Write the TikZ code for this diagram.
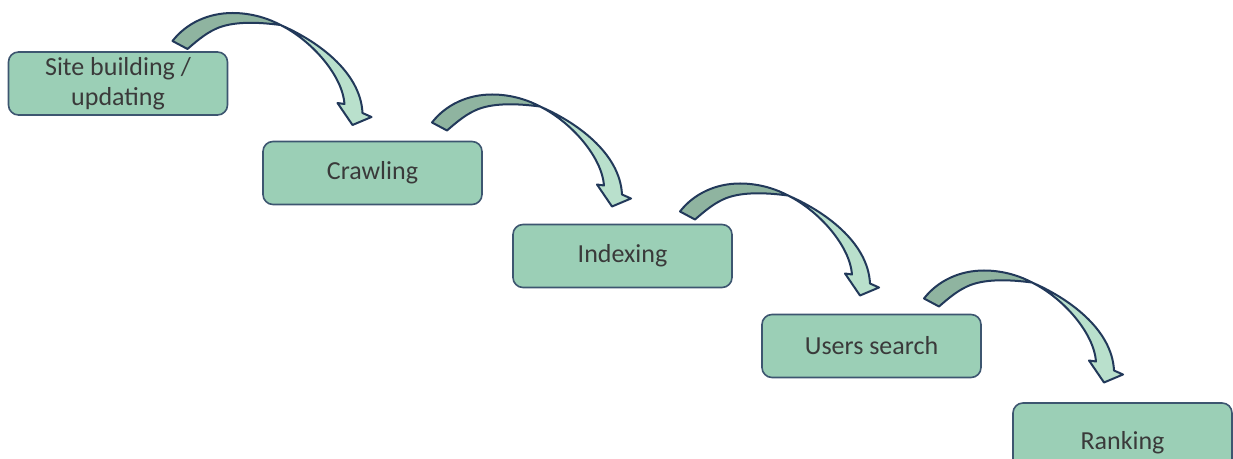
\documentclass[tikz,border=0pt]{standalone}
\usepackage{fontspec}
\setmainfont{Carlito}
\usetikzlibrary{calc}
\definecolor{boxfill}{HTML}{9BCFB6}
\definecolor{boxline}{HTML}{3D5670}
\definecolor{arrowdark}{HTML}{8FB4A0}
\definecolor{arrowlight}{HTML}{B9E0CC}
\definecolor{arrowline}{HTML}{22395A}
\definecolor{txt}{HTML}{3A3A3A}
\tikzset{
  stepbox/.style={draw=boxline, fill=boxfill, line width=0.8pt, rounded corners=5pt,
    minimum width=109.5pt, minimum height=31.5pt, inner sep=0pt, outer sep=0pt,
    align=center, text=txt, font=\fontsize{13}{15}\selectfont},
  curvarrow/.pic={
    \filldraw[fill=arrowdark, draw=arrowline, line width=1pt, line join=round]
      (0,0) .. controls (14,-18) and (36,-28) .. (60,-28)
            .. controls (80,-28) and (97,-22) .. (108,-16)
            .. controls (85,-19) and (60,-20) .. (43,-12)
            .. controls (32,-7) and (22,2) .. (15,8) -- cycle;
    \filldraw[fill=arrowlight, draw=arrowline, line width=1pt, line join=round]
      (108,-16) .. controls (143,-1) and (188,30) .. (190,72)
            -- (199,76) -- (180,84) -- (165,62) -- (172,63)
            .. controls (170,35) and (140,0) .. (108,-16) -- cycle;
  }
}
\begin{document}
\begin{tikzpicture}[x=0.5pt,y=-0.5pt]
\useasboundingbox (0,0) rectangle (1233,459);
\clip (0,0) rectangle (1233,459);
\node[stepbox] (b1) at (118,83.5) {Site building /\\updating};
\node[stepbox] (b2) at (372.5,173) {Crawling};
\node[stepbox] (b3) at (622.5,256) {Indexing};
\node[stepbox] (b4) at (871.5,346) {Users search};
\node[stepbox, minimum height=40pt] (b5) at (1122.5,443) {Ranking};
\coordinate (t1) at ($(b1.north west)+(164,-11)$);
\coordinate (t2) at ($(b2.north west)+(169,-19)$);
\coordinate (t3) at ($(b3.north west)+(167,-13)$);
\coordinate (t4) at ($(b4.north west)+(162,-16)$);
\pic at (t1) {curvarrow};
\pic at (t2) {curvarrow};
\pic at (t3) {curvarrow};
\pic at (t4) {curvarrow};
\end{tikzpicture}
\end{document}
